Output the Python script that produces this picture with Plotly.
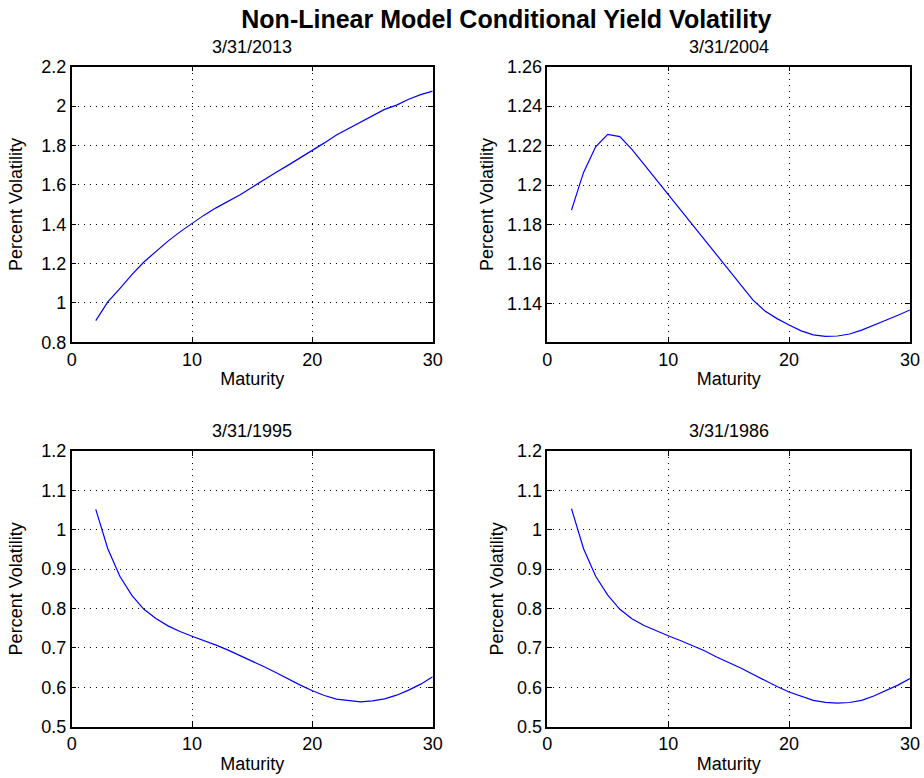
import plotly.graph_objects as go

# ---------------- data ----------------
maturity = list(range(2, 31))

vol_2013 = [0.91, 1.005, 1.073, 1.144, 1.208, 1.263, 1.314, 1.361, 1.405, 1.446,
            1.483, 1.515, 1.55, 1.588, 1.627, 1.664, 1.70, 1.737, 1.776, 1.813,
            1.853, 1.886, 1.918, 1.95, 1.983, 2.005, 2.035, 2.058, 2.076]

vol_2004 = [1.1873, 1.2064, 1.2194, 1.2257, 1.2246, 1.2181, 1.2105, 1.2029, 1.1949, 1.1872,
            1.1797, 1.1722, 1.1646, 1.157, 1.1494, 1.1418, 1.1362, 1.1323, 1.1291, 1.1261,
            1.1241, 1.1233, 1.1235, 1.1245, 1.1265, 1.1288, 1.1315, 1.134, 1.1367]

vol_1995 = [1.0518, 0.952, 0.882, 0.8337, 0.798, 0.7746, 0.756, 0.7416, 0.7297, 0.7188,
            0.707, 0.6943, 0.6807, 0.6672, 0.652, 0.6368, 0.6207, 0.6055, 0.5911, 0.5793,
            0.570, 0.5657, 0.5632, 0.5657, 0.5708, 0.580, 0.5928, 0.608, 0.6266]

vol_1986 = [1.0535, 0.952, 0.882, 0.834, 0.798, 0.774, 0.757, 0.743, 0.731, 0.719,
            0.707, 0.693, 0.677, 0.664, 0.649, 0.633, 0.617, 0.602, 0.588, 0.577,
            0.567, 0.562, 0.560, 0.5615, 0.567, 0.578, 0.591, 0.6055, 0.622]

panel_titles = ["3/31/2013", "3/31/2004", "3/31/1995", "3/31/1986"]
main_title = "Non-Linear Model Conditional Yield Volatility"
x_label = "Maturity"
y_label = "Percent Volatility"

x_ticks = [0, 10, 20, 30]
y_ticks_2013 = [0.8, 1.0, 1.2, 1.4, 1.6, 1.8, 2.0, 2.2]
y_text_2013 = ["0.8", "1", "1.2", "1.4", "1.6", "1.8", "2", "2.2"]
y_ticks_2004 = [1.14, 1.16, 1.18, 1.20, 1.22, 1.24, 1.26]
y_text_2004 = ["1.14", "1.16", "1.18", "1.2", "1.22", "1.24", "1.26"]
y_ticks_low = [0.5, 0.6, 0.7, 0.8, 0.9, 1.0, 1.1, 1.2]
y_text_low = ["0.5", "0.6", "0.7", "0.8", "0.9", "1", "1.1", "1.2"]

series = [vol_2013, vol_2004, vol_1995, vol_1986]
y_ranges = [[0.8, 2.2], [1.1203, 1.26], [0.5, 1.2], [0.5, 1.2]]
y_tickvals = [y_ticks_2013, y_ticks_2004, y_ticks_low, y_ticks_low]
y_ticktext = [y_text_2013, y_text_2004, y_text_low, y_text_low]

# ---------------- layout geometry ----------------
W, H = 924, 778
x_doms = [[71.7 / W, 432.7 / W], [547.3 / W, 910 / W]]
y_doms = [[1 - 342.3 / H, 1 - 66.7 / H], [1 - 726.7 / H, 1 - 451 / H]]
ytitle_standoff = [14, 9]

FONT = "Liberation Sans, Arial, Helvetica, sans-serif"
FS = 18

fig = go.Figure()
layout = dict(
    width=W, height=H,
    margin=dict(l=0, r=0, t=0, b=0, autoexpand=False),
    paper_bgcolor="white", plot_bgcolor="white",
    showlegend=False,
    font=dict(family=FONT, size=FS, color="black"),
    annotations=[],
)

for i in range(4):
    row, col = divmod(i, 2)
    n = i + 1
    xa = "x" if n == 1 else f"x{n}"
    ya = "y" if n == 1 else f"y{n}"
    fig.add_trace(go.Scatter(x=maturity, y=series[i], mode="lines",
                             line=dict(color="#0000ff", width=1.2),
                             xaxis=xa, yaxis=ya, hoverinfo="x+y"))
    common = dict(
        showline=True, linecolor="black", linewidth=1.5, mirror="ticks",
        ticks="inside", ticklen=5, tickcolor="black", tickwidth=1,
        showgrid=True, gridcolor="black", gridwidth=1, griddash="1px,5px",
        zeroline=False, automargin=False,
        tickfont=dict(family=FONT, size=FS, color="black"),
    )
    layout["xaxis" if n == 1 else f"xaxis{n}"] = dict(
        common, domain=x_doms[col], anchor=ya, range=[0, 30],
        tickvals=x_ticks, ticktext=[str(v) for v in x_ticks],
        title=dict(text=x_label, standoff=4, font=dict(family=FONT, size=FS)),
    )
    layout["yaxis" if n == 1 else f"yaxis{n}"] = dict(
        common, domain=y_doms[row], anchor=xa, range=y_ranges[i],
        tickvals=y_tickvals[i], ticktext=y_ticktext[i],
        title=dict(text=y_label, standoff=ytitle_standoff[col],
                   font=dict(family=FONT, size=FS)),
    )
    # panel title
    cx = (x_doms[col][0] + x_doms[col][1]) / 2
    layout["annotations"].append(dict(
        text=panel_titles[i], xref="paper", yref="paper", x=cx, y=y_doms[row][1],
        xanchor="center", yanchor="bottom", yshift=8, showarrow=False,
        font=dict(family=FONT, size=FS, color="black")))

layout["title"] = dict(text="<b>" + main_title + "</b>", x=0.548, xanchor="center",
                       yref="container", y=1 - 19.5 / H, yanchor="middle", automargin=False,
                       font=dict(family=FONT, size=25, color="black"))

fig.update_layout(**layout)
fig.write_html("out.html")
